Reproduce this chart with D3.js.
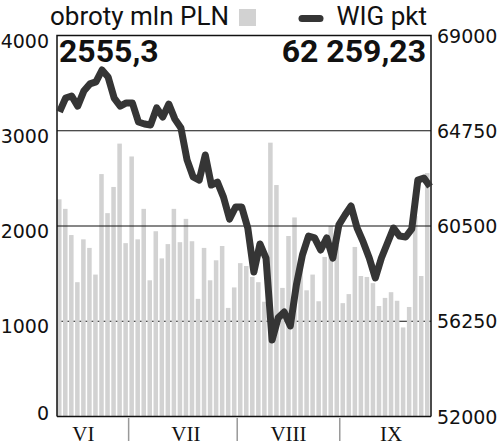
<!DOCTYPE html>
<html>
<head>
<meta charset="utf-8">
<script src="https://cdn.jsdelivr.net/npm/d3@7"></script>
<style>
  body { margin: 0; background: #fff; }
  svg { display: block; }
</style>
</head>
<body>
<svg id="chart"></svg>
<script>
// turnover per session, mln PLN
const turnover = [2280, 2180, 1905, 1410, 1860, 1770, 1490, 2545, 2135, 2410,
  2865, 1820, 2730, 1860, 2180, 1430, 1945, 1660, 1810, 2180,
  1830, 2075, 1840, 1235, 1770, 1430, 1640, 1790, 1140, 1355,
  1610, 1580, 1465, 1410, 1205, 2875, 2430, 1350, 1895, 2090,
  1590, 1325, 1490, 1210, 1675, 2000, 1800, 1190, 1285, 1780,
  1475, 1465, 1400, 1160, 1245, 1305, 1215, 935, 1150, 2105,
  1475, 2555.3];
// WIG close per session, pkt
const wig = [65590, 66210, 66300, 65850, 66520, 66840, 66930, 67460, 67150, 66210,
  65850, 65990, 65990, 65140, 65050, 65010, 65770, 65360, 65940, 65270,
  64870, 63450, 62690, 62550, 63670, 62330, 62460, 61790, 60810, 61350,
  61350, 60410, 58450, 59700, 59070, 55410, 56400, 56660, 56040, 57870,
  59210, 60050, 59970, 59430, 59970, 59070, 60550, 60990, 61390, 60410,
  59790, 59070, 58180, 59070, 59740, 60410, 60050, 60010, 60370, 62550,
  62640, 62259.23];
const months = ["VI", "VII", "VIII", "IX"];
const monthStart = [0, 12, 30, 47];     // first session of each month
const monthLabelAt = [4, 21, 38, 55];   // session under which the label sits
const turnoverTicks = [0, 1000, 2000, 3000, 4000];
const wigTicks = [52000, 56250, 60500, 64750, 69000];
const lastTurnover = "2555,3";
const lastWig = "62 259,23";

const width = 500, height = 447;
const plot = {left: 57, right: 431, top: 35.5, bottom: 416.5};
const sessions = d3.range(turnover.length);

const svg = d3.select("#chart").attr("width", width).attr("height", height);

const x = d3.scaleBand().domain(sessions)
  .range([plot.left, 429.5]).paddingInner(0.25).paddingOuter(0);
const xLine = d3.scalePoint().domain(sessions).range([59.5, 430]);
const yL = d3.scaleLinear().domain([0, 4000]).range([plot.bottom, plot.top]);
const yR = d3.scaleLinear().domain([52000, 69000]).range([plot.bottom, plot.top]);

const grid = (g, vals) => g.selectAll("line").data(vals).join("line")
  .attr("x1", plot.left).attr("x2", plot.right)
  .attr("y1", d => yL(d)).attr("y2", d => yL(d))
  .attr("stroke", "#111").attr("stroke-width", 1.2);

// low gridline sits behind the bars, the upper ones in front
svg.append("g").call(grid, turnoverTicks.filter(d => d > 0 && d < 2000));

svg.append("g").selectAll("rect").data(turnover).join("rect")
  .attr("x", (d, i) => x(i))
  .attr("width", x.bandwidth())
  .attr("y", d => yL(d))
  .attr("height", d => yL(0) - yL(d))
  .attr("fill", "#d2d2d2");

svg.append("g").call(grid, turnoverTicks.filter(d => d >= 2000 && d < 4000));

// frame
svg.append("path")
  .attr("d", `M${plot.left},${plot.bottom}V${plot.top}H${plot.right}V${plot.bottom}`)
  .attr("fill", "none").attr("stroke", "#111").attr("stroke-width", 1.5);
svg.append("line")
  .attr("x1", plot.left).attr("x2", plot.right)
  .attr("y1", plot.bottom).attr("y2", plot.bottom)
  .attr("stroke", "#111").attr("stroke-width", 1.5);

// WIG line
const line = d3.line().x((d, i) => xLine(i)).y(d => yR(d));
svg.append("path").datum(wig)
  .attr("d", line)
  .attr("fill", "none")
  .attr("stroke", "#353535")
  .attr("stroke-width", 7)
  .attr("stroke-linejoin", "round");

// axes labels
svg.append("g").selectAll("text").data(turnoverTicks).join("text")
  .attr("x", 49)
  .attr("y", d => Math.min(yL(d) + 5, 413))
  .attr("dominant-baseline", "central")
  .attr("text-anchor", "end")
  .attr("font-family", "DejaVu Sans")
  .attr("font-size", 19)
  .attr("fill", "#111")
  .text(d => d);

svg.append("g").selectAll("text").data(wigTicks).join("text")
  .attr("x", 437)
  .attr("y", d => yR(d))
  .attr("dominant-baseline", "central")
  .attr("font-family", "DejaVu Sans")
  .attr("font-size", 19)
  .attr("fill", "#111")
  .text(d => d);

// month separators and labels
const step = x.step();
svg.append("g").selectAll("line").data(monthStart.slice(1)).join("line")
  .attr("x1", d => x(d) - step * 0.125).attr("x2", d => x(d) - step * 0.125)
  .attr("y1", 418).attr("y2", 441)
  .attr("stroke", "#999").attr("stroke-width", 1.5);

svg.append("g").selectAll("text").data(months).join("text")
  .attr("x", (d, i) => x(monthLabelAt[i]) + x.bandwidth() / 2)
  .attr("y", 441)
  .attr("text-anchor", "middle")
  .attr("font-family", "Liberation Serif")
  .attr("font-size", 21)
  .attr("fill", "#111")
  .text(d => d);

// legend
svg.append("text").attr("x", 50).attr("y", 25)
  .attr("font-family", "Roboto").attr("font-size", 26).attr("fill", "#111")
  .text("obroty mln PLN");
svg.append("rect").attr("x", 239).attr("y", 9).attr("width", 17).attr("height", 17)
  .attr("fill", "#d2d2d2");
svg.append("line").attr("x1", 302).attr("x2", 320).attr("y1", 18.5).attr("y2", 18.5)
  .attr("stroke", "#353535").attr("stroke-width", 7).attr("stroke-linecap", "round");
svg.append("text").attr("x", 427).attr("y", 25).attr("text-anchor", "end")
  .attr("font-family", "Roboto").attr("font-size", 26).attr("fill", "#111")
  .text("WIG pkt");

// last values
svg.append("text").attr("x", 59).attr("y", 62)
  .attr("font-family", "Roboto").attr("font-weight", "bold").attr("font-size", 32)
  .attr("fill", "#111").text(lastTurnover);
svg.append("text").attr("x", 426).attr("y", 62).attr("text-anchor", "end")
  .attr("font-family", "Roboto").attr("font-weight", "bold").attr("font-size", 32)
  .attr("fill", "#111").text(lastWig);
</script>
</body>
</html>
